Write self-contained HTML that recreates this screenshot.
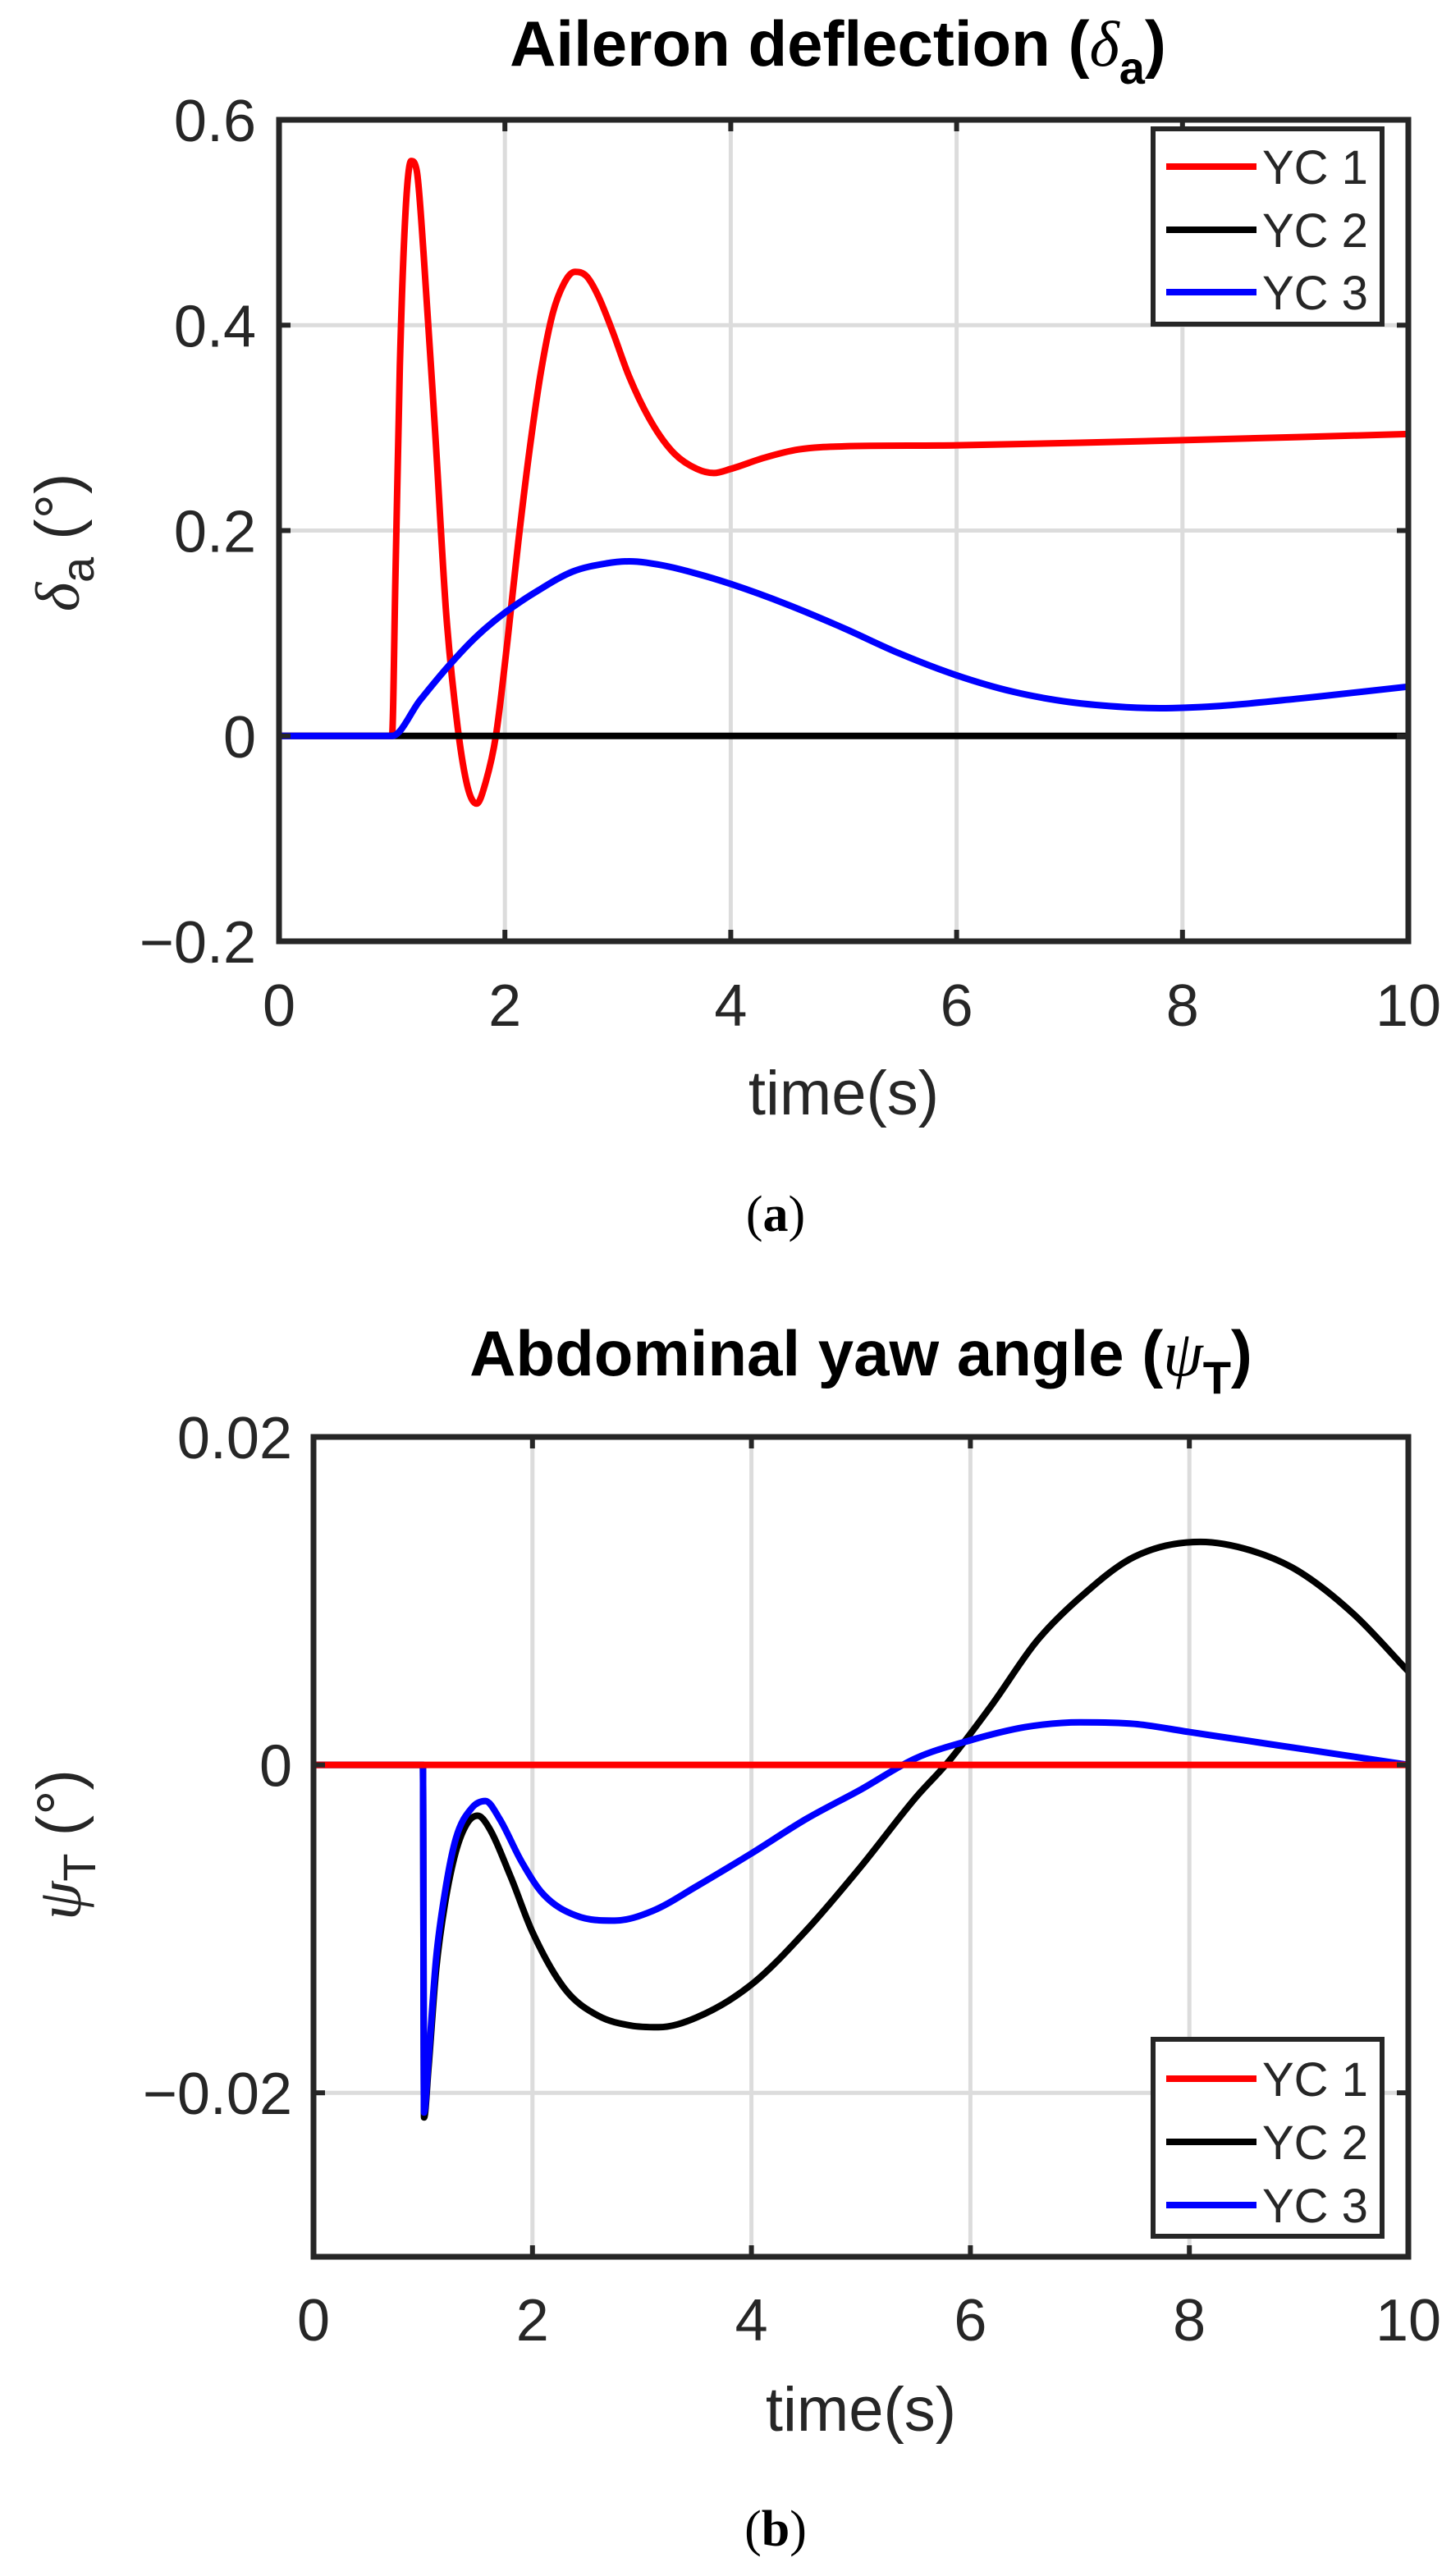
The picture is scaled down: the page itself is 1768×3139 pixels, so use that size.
<!DOCTYPE html>
<html><head><meta charset="utf-8"><style>
html,body{margin:0;padding:0;background:#fff}
svg{display:block}
text{font-family:"Liberation Sans",sans-serif;fill:#262626}
</style></head><body>
<svg id="s" width="1768" height="3139" viewBox="0 0 1768 3139" xmlns="http://www.w3.org/2000/svg">
<rect width="1768" height="3139" fill="#fff"/>
<g id="g"></g>
<text x="1021" y="80" font-size="78" font-weight="bold" text-anchor="middle" style="fill:#000">Aileron deflection (<tspan font-family="Liberation Serif" font-style="italic" font-weight="normal">δ</tspan><tspan font-size="56" dy="22">a</tspan><tspan dy="-22">)</tspan></text>
<text x="1049" y="1676" font-size="78" font-weight="bold" text-anchor="middle" style="fill:#000">Abdominal yaw angle (<tspan font-family="Liberation Serif" font-style="italic" font-weight="normal">ψ</tspan><tspan font-size="56" dy="22">T</tspan><tspan dy="-22">)</tspan></text>
<text transform="translate(96,661) rotate(-90)" font-size="76" text-anchor="middle"><tspan font-family="Liberation Serif" font-style="italic">δ</tspan><tspan font-size="56" dy="18">a</tspan><tspan dy="-18"> (°)</tspan></text>
<text transform="translate(98,2248) rotate(-90)" font-size="76" text-anchor="middle"><tspan font-family="Liberation Serif" font-style="italic">ψ</tspan><tspan font-size="56" dy="18">T</tspan><tspan dy="-18"> (°)</tspan></text>
<text x="1028" y="1358" font-size="76" text-anchor="middle">time(s)</text>
<text x="1049" y="2962" font-size="76" text-anchor="middle">time(s)</text>
<text x="945" y="1500" font-size="62" text-anchor="middle" style="font-family:'Liberation Serif',serif;fill:#000">(<tspan font-weight="bold">a</tspan>)</text>
<text x="945" y="3102" font-size="62" text-anchor="middle" style="font-family:'Liberation Serif',serif;fill:#000">(<tspan font-weight="bold">b</tspan>)</text>
</svg>
<script>
const NS="http://www.w3.org/2000/svg",G=document.getElementById('g');
function el(t,a,txt){const e=document.createElementNS(NS,t);for(const k in a)e.setAttribute(k,a[k]);if(txt!==undefined)e.textContent=txt;G.appendChild(e);return e;}
function path(p){const n=p.length,s=[],m=[];
for(let i=0;i<n-1;i++)s.push((p[i+1][1]-p[i][1])/(p[i+1][0]-p[i][0]));
for(let i=0;i<n;i++){if(i==0)m.push(s[0]);else if(i==n-1)m.push(s[n-2]);else{const a=s[i-1],b=s[i];
 if(a*b<=0)m.push(0);else{let v=(a+b)/2;const lim=3*Math.min(Math.abs(a),Math.abs(b));if(Math.abs(v)>lim)v=Math.sign(v)*lim;m.push(v);}}}
let d='M'+p[0][0].toFixed(1)+' '+p[0][1].toFixed(1);
for(let i=0;i<n-1;i++){const h=(p[i+1][0]-p[i][0])/3;
 d+=' C'+(p[i][0]+h).toFixed(1)+' '+(p[i][1]+m[i]*h).toFixed(1)+' '+(p[i+1][0]-h).toFixed(1)+' '+(p[i+1][1]-m[i+1]*h).toFixed(1)+' '+p[i+1][0].toFixed(1)+' '+p[i+1][1].toFixed(1);}
return d;}
function plot(o){
 const X=t=>o.x0+(o.x1-o.x0)*t/10, Y=v=>o.y1+(o.y0-o.y1)*(v-o.vmin)/(o.vmax-o.vmin);
 for(let t=2;t<10;t+=2) el('line',{x1:X(t),x2:X(t),y1:o.y0,y2:o.y1,stroke:'#dcdcdc','stroke-width':5});
 o.yt.forEach(v=>{if(v<o.vmax&&v>o.vmin)el('line',{x1:o.x0,x2:o.x1,y1:Y(v),y2:Y(v),stroke:'#dcdcdc','stroke-width':5});});
 o.series.forEach(s=>{const pts=s.p.map(q=>[X(q[0]),Y(q[1])]);el('path',{d:path(pts),fill:'none',stroke:s.c,'stroke-width':8,'stroke-linejoin':'round'});});
 for(let t=0;t<=10;t+=2){el('line',{x1:X(t),x2:X(t),y1:o.y1,y2:o.y1-14,stroke:'#262626','stroke-width':6});el('line',{x1:X(t),x2:X(t),y1:o.y0,y2:o.y0+14,stroke:'#262626','stroke-width':6});
  el('text',{x:X(t),y:o.xty,'font-size':72,'text-anchor':'middle'},String(t));}
 o.yt.forEach(v=>{el('line',{x1:o.x0,x2:o.x0+14,y1:Y(v),y2:Y(v),stroke:'#262626','stroke-width':6});el('line',{x1:o.x1,x2:o.x1-14,y1:Y(v),y2:Y(v),stroke:'#262626','stroke-width':6});
  el('text',{x:o.ytx,y:Y(v)+26,'font-size':72,'text-anchor':'end'},o.fmt(v));});
 el('rect',{x:o.x0,y:o.y0,width:o.x1-o.x0,height:o.y1-o.y0,fill:'none',stroke:'#262626','stroke-width':7});
 const L=o.leg;el('rect',{x:L.x,y:L.y,width:279,height:L.h,fill:'#fff',stroke:'#262626','stroke-width':6});
 [['#ff0000','YC 1'],['#000000','YC 2'],['#0000ff','YC 3']].forEach((c,i)=>{const yy=L.r[i];
  el('line',{x1:1421,x2:1531,y1:yy,y2:yy,stroke:c[0],'stroke-width':8});
  el('text',{x:1538,y:yy+21,'font-size':58},c[1]);});
}
const redA=[[0,0],[1,0],[1.03,0.15],[1.07,0.36],[1.12,0.51],[1.17,0.56],[1.22,0.55],[1.28,0.47],[1.38,0.3],[1.48,0.12],[1.58,0.01],[1.67,-0.05],[1.75,-0.066],[1.83,-0.045],[1.92,0.0],[2.02,0.09],[2.12,0.19],[2.22,0.28],[2.32,0.355],[2.42,0.41],[2.52,0.44],[2.62,0.452],[2.72,0.448],[2.82,0.43],[2.95,0.395],[3.1,0.35],[3.3,0.305],[3.5,0.275],[3.7,0.26],[3.85,0.256],[4.0,0.26],[4.3,0.271],[4.6,0.279],[5.0,0.282],[6,0.283],[8,0.288],[10,0.294]];
const blueA=[[0,0],[1,0],[1.25,0.035],[1.5,0.068],[1.75,0.097],[2,0.12],[2.3,0.142],[2.6,0.16],[2.9,0.168],[3.1,0.17],[3.4,0.166],[3.7,0.158],[4,0.148],[4.5,0.128],[5,0.105],[5.5,0.08],[6,0.059],[6.5,0.043],[7,0.033],[7.5,0.028],[7.8,0.027],[8.3,0.029],[9,0.036],[10,0.048]];
plot({x0:340,x1:1716,y0:146,y1:1147,vmin:-0.2,vmax:0.6,yt:[0.6,0.4,0.2,0,-0.2],ytx:312,xty:1250,
 fmt:v=>v===0?'0':(v<0?'−':'')+Math.abs(v).toFixed(1),
 series:[{c:'#ff0000',p:redA},{c:'#000000',p:[[0,0],[10,0]]},{c:'#0000ff',p:blueA}],
 leg:{x:1405,y:157,h:238,r:[203,280,356]}});
const blackB=[[0,0],[0.999,0],[1.01,-0.0215],[1.05,-0.0185],[1.12,-0.0125],[1.2,-0.0085],[1.3,-0.0053],[1.4,-0.0036],[1.5,-0.0031],[1.6,-0.0038],[1.8,-0.0068],[2.0,-0.0102],[2.3,-0.0137],[2.6,-0.0153],[2.9,-0.0159],[3.15,-0.016],[3.5,-0.0154],[4,-0.0134],[4.5,-0.0101],[5,-0.0062],[5.5,-0.002],[5.8,0.0002],[6.2,0.0037],[6.6,0.0075],[7,0.0102],[7.5,0.0127],[8.1,0.0136],[8.6,0.013],[9,0.0118],[9.5,0.0092],[10,0.0057]];
const blueB=[[0,0],[0.999,0],[1.01,-0.0212],[1.05,-0.018],[1.12,-0.0118],[1.2,-0.0078],[1.3,-0.0045],[1.45,-0.0026],[1.57,-0.0022],[1.7,-0.0033],[1.9,-0.0059],[2.1,-0.0079],[2.4,-0.0092],[2.75,-0.0095],[3.1,-0.0089],[3.5,-0.0074],[4,-0.0054],[4.5,-0.0033],[5,-0.0015],[5.5,0.0004],[6,0.0015],[6.5,0.0023],[7,0.0026],[7.5,0.0025],[8,0.002],[8.5,0.0015],[9,0.001],[9.5,0.0005],[10,0]];
plot({x0:382,x1:1716,y0:1751,y1:2750,vmin:-0.03,vmax:0.02,yt:[0.02,0,-0.02],ytx:356,xty:2852,
 fmt:v=>v===0?'0':(v<0?'−':'')+Math.abs(v).toFixed(2),
 series:[{c:'#000000',p:blackB},{c:'#0000ff',p:blueB},{c:'#ff0000',p:[[0,0],[10,0]]}],
 leg:{x:1405,y:2485,h:240,r:[2533,2610,2687]}});
</script>
</body></html>
